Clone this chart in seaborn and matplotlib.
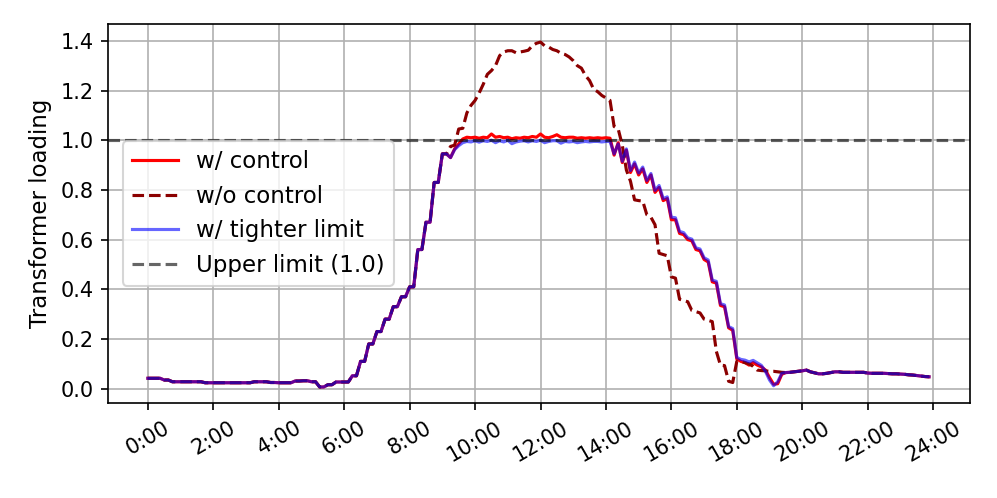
import numpy as np
import matplotlib
matplotlib.use("Agg")
import matplotlib.pyplot as plt
import seaborn as sns

# ---- data (7.5-minute samples, 0:00 .. 23:52) ----
morning_common = [
    0.042, 0.042, 0.042, 0.042, 0.035, 0.035, 0.028, 0.028,
    0.028, 0.028, 0.028, 0.028, 0.028, 0.028, 0.024, 0.024,
    0.024, 0.024, 0.024, 0.024, 0.024, 0.024, 0.024, 0.024,
    0.024, 0.024, 0.028, 0.028, 0.028, 0.028, 0.025, 0.025,
    0.024, 0.024, 0.024, 0.024, 0.031, 0.031, 0.032, 0.032,
    0.028, 0.028, 0.007, 0.007, 0.016, 0.016, 0.027, 0.027,
    0.027, 0.027, 0.052, 0.052, 0.11, 0.11, 0.18, 0.18,
    0.23, 0.23, 0.28, 0.28, 0.33, 0.33, 0.37, 0.37,
    0.41, 0.41, 0.56, 0.56, 0.67, 0.67, 0.83, 0.83,
    0.945, 0.945,
]

ctrl_mid = [
    0.93, 0.965, 0.985, 1.005, 1.012, 1.01,
    1.012, 1.008, 1.012, 1.01, 1.025, 1.012, 1.015, 1.01,
    1.012, 1.006, 1.01, 1.008, 1.012, 1.01, 1.015, 1.012,
    1.025, 1.012, 1.01, 1.015, 1.022, 1.012, 1.01, 1.012,
    1.012, 1.008, 1.01, 1.008, 1.01, 1.008, 1.01, 1.008,
    1.01, 1.008, 0.94, 0.99, 0.91, 0.96, 0.87, 0.905,
    0.86, 0.885, 0.83, 0.86, 0.79, 0.81, 0.757, 0.765,
    0.68, 0.68, 0.625, 0.62, 0.6, 0.595, 0.56, 0.555,
    0.52, 0.51, 0.43, 0.425, 0.335, 0.33, 0.245, 0.235,
    0.12, 0.11, 0.105, 0.095, 0.105, 0.095, 0.088, 0.075,
    0.045, 0.018, 0.02, 0.058,
]

noctrl_mid = [
    0.975, 0.98, 1.045, 1.048, 1.11, 1.14,
    1.16, 1.19, 1.225, 1.265, 1.28, 1.30, 1.34, 1.355,
    1.36, 1.36, 1.352, 1.355, 1.358, 1.362, 1.38, 1.39,
    1.395, 1.38, 1.375, 1.365, 1.36, 1.35, 1.345, 1.335,
    1.32, 1.30, 1.29, 1.26, 1.24, 1.205, 1.195, 1.18,
    1.17, 1.16, 1.055, 1.045, 0.98, 0.88, 0.835, 0.76,
    0.757, 0.755, 0.70, 0.69, 0.66, 0.545, 0.54, 0.535,
    0.45, 0.445, 0.36, 0.355, 0.35, 0.315, 0.31, 0.305,
    0.28, 0.275, 0.27, 0.15, 0.095, 0.093, 0.03, 0.025,
    0.11, 0.11, 0.105, 0.1, 0.09, 0.075, 0.073, 0.072,
    0.07, 0.07, 0.068, 0.066,
]

tight_mid = [
    0.93, 0.962, 0.978, 0.99, 0.995, 0.993,
    0.998, 0.992, 0.998, 0.995, 1.0, 0.99, 0.998, 0.993,
    1.0, 0.986, 0.993, 0.996, 0.998, 0.993, 0.998, 0.995,
    1.0, 0.99, 0.995, 0.998, 0.998, 0.988, 0.995, 0.993,
    0.995, 0.99, 0.993, 0.995, 0.993, 0.995, 0.995, 0.993,
    0.995, 0.995, 0.945, 0.985, 0.915, 0.965, 0.878, 0.912,
    0.868, 0.892, 0.838, 0.866, 0.798, 0.818, 0.765, 0.772,
    0.69, 0.688, 0.633, 0.628, 0.607, 0.602, 0.567, 0.562,
    0.527, 0.518, 0.437, 0.432, 0.342, 0.337, 0.25, 0.242,
    0.126, 0.118, 0.115, 0.108, 0.114, 0.104, 0.094, 0.07,
    0.035, 0.012, 0.028, 0.062,
]

evening_common = [
    0.065, 0.066, 0.068, 0.07,
    0.072, 0.075, 0.068, 0.064, 0.06, 0.06, 0.062, 0.065,
    0.068, 0.068, 0.066, 0.066, 0.066, 0.066, 0.066, 0.066,
    0.063, 0.062, 0.062, 0.062, 0.062, 0.061, 0.06, 0.06,
    0.059, 0.058, 0.056, 0.055, 0.053, 0.051, 0.049, 0.048,
]

w_control = morning_common + ctrl_mid + evening_common
wo_control = morning_common + noctrl_mid + evening_common
w_tight = morning_common + tight_mid + evening_common

tick_hours = list(range(0, 25, 2))
tick_labels = [f"{h}:00" for h in tick_hours]
upper_limit = 1.0

hours = np.arange(len(w_control)) * 0.125

# ---- figure ----
plt.rcParams['font.family'] = ['DejaVu Sans']
fig = plt.figure(figsize=(997 / 150, 498 / 150), dpi=150)
ax = fig.add_axes([0.1083, 0.19, 0.973 - 0.1083, 0.952 - 0.19])

sns.lineplot(x=hours, y=w_control, ax=ax, color='red', linewidth=1.5,
             label='w/ control')
sns.lineplot(x=hours, y=wo_control, ax=ax, color='darkred', linewidth=1.5,
             linestyle='--', label='w/o control')
sns.lineplot(x=hours, y=w_tight, ax=ax, color='blue', alpha=0.6,
             linewidth=1.5, label='w/ tighter limit')
ax.axhline(upper_limit, color='black', alpha=0.6, linestyle='--',
           linewidth=1.5, label='Upper limit (1.0)')

ax.set_xlim(-1.22, 25.13)
ax.set_ylim(-0.059, 1.468)
ax.set_xticks(tick_hours)
ax.set_xticklabels(tick_labels, rotation=30)
ax.set_yticks([0.0, 0.2, 0.4, 0.6, 0.8, 1.0, 1.2, 1.4])
ax.set_ylabel('Transformer loading', fontsize=11)
ax.set_xlabel('')
ax.grid(True, color='#b0b0b0', linewidth=0.8)
ax.set_axisbelow(True)
ax.legend(loc='center left', bbox_to_anchor=(0.004, 0.5), fontsize=11)

fig.savefig('out.png', dpi=150)
